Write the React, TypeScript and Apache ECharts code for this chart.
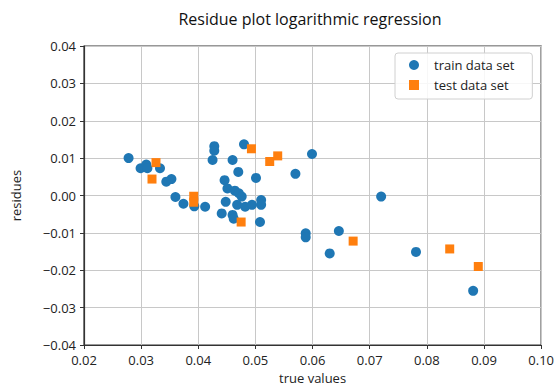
import React, { useEffect, useRef } from "react";
import * as echarts from "echarts";

const trainX = [0.0278, 0.0299, 0.0309, 0.0311, 0.0333, 0.0344, 0.0353, 0.036, 0.0374, 0.0393, 0.0412, 0.0428, 0.0428, 0.0425, 0.048, 0.046, 0.0599, 0.057, 0.047, 0.0501, 0.0446, 0.0451, 0.0464, 0.0471, 0.0476, 0.0448, 0.0441, 0.046, 0.0462, 0.0468, 0.0482, 0.0494, 0.051, 0.051, 0.0508, 0.0588, 0.0588, 0.0646, 0.072, 0.063, 0.0781, 0.0881];
const trainY = [0.01, 0.0073, 0.0083, 0.0073, 0.0073, 0.0037, 0.0044, -0.0004, -0.0022, -0.0029, -0.003, 0.0132, 0.012, 0.0095, 0.0137, 0.0095, 0.0111, 0.0058, 0.0063, 0.0047, 0.0041, 0.0019, 0.0013, 0.0006, -0.0003, -0.0017, -0.0048, -0.0052, -0.0062, -0.0025, -0.003, -0.0025, -0.0012, -0.0025, -0.0071, -0.0101, -0.0112, -0.0095, -0.0003, -0.0155, -0.0151, -0.0255];
const testX = [0.0326, 0.0319, 0.0392, 0.0392, 0.0493, 0.0525, 0.0539, 0.0475, 0.0671, 0.084, 0.089];
const testY = [0.0088, 0.0044, -0.0002, -0.0018, 0.0125, 0.0091, 0.0106, -0.0071, -0.0122, -0.0143, -0.019];

const seriesNames = ["train data set", "test data set"];
const titleText = "Residue plot logarithmic regression";
const xName = "true values";
const yName = "residues";

const FONT = "Open Sans";

function fmt(v: number): string {
  if (Math.abs(v) < 1e-9) return "0.00";
  return v.toFixed(2).replace("-", "\u2212");
}

export default function App() {
  const ref = useRef<HTMLDivElement>(null);
  useEffect(() => {
    if (!ref.current) return;
    const chart = echarts.init(ref.current, null, { renderer: "svg" });
    const axisCommon = {
      axisLine: { show: true, onZero: false, lineStyle: { color: "#333", width: 1.2 } },
      axisTick: { show: true, inside: false, length: 4, lineStyle: { color: "#333" } },
      splitLine: { show: true, lineStyle: { color: "#c8c8c8", width: 1 } },
      axisLabel: { color: "#222", fontFamily: FONT, fontSize: 13, formatter: fmt },
      nameTextStyle: { color: "#222", fontFamily: FONT, fontSize: 13 },
    };
    chart.setOption({
      animation: false,
      backgroundColor: "#fff",
      title: {
        text: titleText,
        left: 305,
        textAlign: "center",
        top: 6,
        textStyle: { fontFamily: FONT, fontSize: 16, fontWeight: "normal", color: "#111" },
      },
      legend: {
        left: 395,
        top: 53,
        orient: "vertical",
        itemWidth: 10,
        itemHeight: 10,
        itemGap: 6,
        padding: [5, 18, 7, 14],
        borderColor: "#d0d0d0",
        borderWidth: 1,
        borderRadius: 3,
        backgroundColor: "rgba(255,255,255,0.85)",
        textStyle: { fontFamily: FONT, fontSize: 13, color: "#222", lineHeight: 14, padding: [0, 0, 0, 10] },
        data: [
          { name: seriesNames[0], icon: "circle" },
          { name: seriesNames[1], icon: "rect" },
        ],
      },
      grid: {
        left: 84,
        right: 13,
        top: 46,
        bottom: 45,
        show: true,
        borderColor: "#333",
        borderWidth: 1.2,
        backgroundColor: "transparent",
      },
      xAxis: {
        type: "value",
        min: 0.02,
        max: 0.1,
        interval: 0.01,
        name: xName,
        nameLocation: "middle",
        nameGap: 26,
        ...axisCommon,
      },
      yAxis: {
        type: "value",
        min: -0.04,
        max: 0.04,
        interval: 0.01,
        name: yName,
        nameLocation: "middle",
        nameGap: 62,
        ...axisCommon,
      },
      series: [
        {
          name: seriesNames[0],
          type: "scatter",
          symbol: "circle",
          symbolSize: 10,
          itemStyle: { color: "#1f77b4", opacity: 1 },
          data: trainX.map((x, i) => [x, trainY[i]]),
          z: 3,
        },
        {
          name: seriesNames[1],
          type: "scatter",
          symbol: "rect",
          symbolSize: 9,
          itemStyle: { color: "#ff7f0e", opacity: 1 },
          data: testX.map((x, i) => [x, testY[i]]),
          z: 4,
        },
      ],
    });
    return () => chart.dispose();
  }, []);
  return <div ref={ref} style={{ width: 557, height: 390, position: "absolute", left: 0, top: 0 }} />;
}
